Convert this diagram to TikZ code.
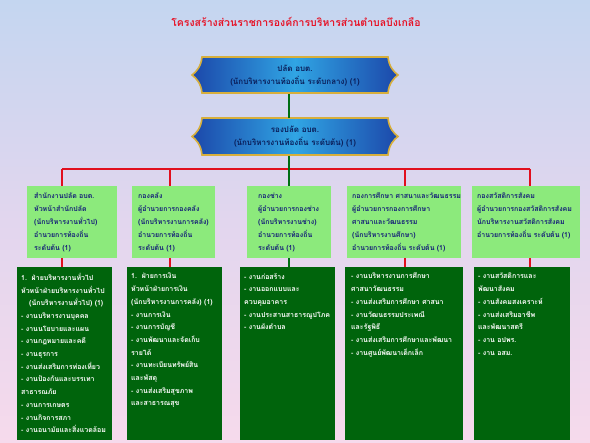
\documentclass[tikz,border=0pt]{standalone}
\usepackage{fontspec}
\newfontfamily\thaifont[Script=Thai]{Loma}
\usetikzlibrary{calc}
\definecolor{bgtop}{RGB}{196,214,240}
\definecolor{bgmid}{RGB}{226,214,238}
\definecolor{bgbot}{RGB}{246,218,236}
\definecolor{titlered}{RGB}{230,20,40}
\definecolor{lgreen}{RGB}{140,234,124}
\definecolor{dgreen}{RGB}{0,100,12}
\definecolor{navy}{RGB}{20,30,120}
\definecolor{conred}{RGB}{225,15,30}
\definecolor{congreen}{RGB}{0,110,20}
\definecolor{gold}{RGB}{215,175,60}
\definecolor{bluedark}{RGB}{28,72,170}
\definecolor{bluelight}{RGB}{48,165,228}
\definecolor{bannertext}{RGB}{10,30,90}
\newcommand\drawbanner[4]{%
  \pgfmathsetmacro\bym{(#3+#4)/2}%
  \shadedraw[left color=bluedark, right color=bluedark, middle color=bluelight, draw=gold, line width=1.6pt]
  (#1+10,#3) -- (#2-10,#3) .. controls (#2-9,\bym-8) and (#2-4,\bym-3) .. (#2,\bym)
  .. controls (#2-4,\bym+3) and (#2-9,\bym+8) .. (#2-10,#4) -- (#1+10,#4)
  .. controls (#1+9,\bym+8) and (#1+4,\bym+3) .. (#1,\bym)
  .. controls (#1+4,\bym-3) and (#1+9,\bym-8) .. (#1+10,#3) -- cycle;
}
\begin{document}
\begin{tikzpicture}[x=1pt,y=-1pt,
  lbox/.style={fill=lgreen, anchor=north west, inner sep=0pt},
  dbox/.style={fill=dgreen, anchor=north west, inner sep=0pt},
  ltext/.style={anchor=north west, inner sep=0pt, align=left, text=navy, font=\thaifont\bfseries\fontsize{7}{13}\selectfont},
  dtext/.style={anchor=north west, inner sep=0pt, align=left, text=white, font=\thaifont\bfseries\fontsize{7}{12.7}\selectfont},
  btext/.style={inner sep=0pt, align=center, text=bannertext, font=\thaifont\bfseries\fontsize{8}{13}\selectfont, minimum width=206pt},
  redcon/.style={draw=conred, line width=1.8pt},
  greencon/.style={draw=congreen, line width=1.8pt},
]
\useasboundingbox (0,0) rectangle (590,443);
\shade[top color=bgtop, bottom color=bgbot, middle color=bgmid] (0,0) rectangle (590,443);

\node[font=\thaifont\bfseries\fontsize{10.5}{13}\selectfont, text=titlered] (title) at (296,22) {โครงสร้างส่วนราชการองค์การบริหารส่วนตำบลบึงเกลือ};

% banners
\drawbanner{192}{398}{57}{93}
\node[btext, minimum height=36pt] (ban1) at (295,76) {ปลัด อบต.\\(นักบริหารงานท้องถิ่น ระดับกลาง) (1)};
\drawbanner{192}{398}{118}{155}
\node[btext, minimum height=37pt] (ban2) at (295,137) {รองปลัด อบต.\\(นักบริหารงานท้องถิ่น ระดับต้น) (1)};

% light boxes
\node[lbox, minimum width=90pt, minimum height=72pt] (l1) at (27,186) {};
\node[lbox, minimum width=83pt, minimum height=72pt] (l2) at (132,186) {};
\node[lbox, minimum width=84pt, minimum height=72pt] (l3) at (247,186) {};
\node[lbox, minimum width=114pt, minimum height=72pt] (l4) at (347,186) {};
\node[lbox, minimum width=108pt, minimum height=72pt] (l5) at (472,186) {};

% dark boxes
\node[dbox, minimum width=95pt, minimum height=173pt] (d1) at (17,267) {};
\node[dbox, minimum width=95pt, minimum height=173pt] (d2) at (127,267) {};
\node[dbox, minimum width=95pt, minimum height=173pt] (d3) at (240,267) {};
\node[dbox, minimum width=118pt, minimum height=173pt] (d4) at (345,267) {};
\node[dbox, minimum width=96pt, minimum height=173pt] (d5) at (474,267) {};

% connector coordinates
\coordinate (c1) at (62,169);
\coordinate (c2) at (170,169);
\coordinate (c3) at (289,169);
\coordinate (c4) at (405,169);
\coordinate (c5) at (530,169);

\draw[redcon] (c1) -- (c5);
\draw[redcon] (c1) -- (c1 |- l1.north);
\draw[redcon] (c2) -- (c2 |- l2.north);
\draw[redcon] (c4) -- (c4 |- l4.north);
\draw[redcon] (c5) -- (c5 |- l5.north);
\draw[redcon] (c1 |- l1.south) -- (c1 |- d1.north);
\draw[redcon] (c2 |- l2.south) -- (c2 |- d2.north);
\draw[redcon] (c4 |- l4.south) -- (c4 |- d4.north);
\draw[redcon] (c5 |- l5.south) -- (c5 |- d5.north);
\draw[greencon] (c3 |- ban1.south) -- (c3 |- ban2.north);
\draw[greencon] (c3 |- ban2.south) -- (c3 |- l3.north);
\draw[greencon] (c3 |- l3.south) -- (c3 |- d3.north);

% light box texts
\node[ltext] (lt1) at ($(l1.north west)+(7,7)$) {สำนักงานปลัด อบต.\\หัวหน้าสำนักปลัด\\(นักบริหารงานทั่วไป)\\อำนวยการท้องถิ่น\\ระดับต้น (1)};
\node[ltext] (lt2) at ($(l2.north west)+(6,7)$) {กองคลัง\\ผู้อำนวยการกองคลัง\\(นักบริหารงานการคลัง)\\อำนวยการท้องถิ่น\\ระดับต้น (1)};
\node[ltext] (lt3) at ($(l3.north west)+(11,7)$) {กองช่าง\\ผู้อำนวยการกองช่าง\\(นักบริหารงานช่าง)\\อำนวยการท้องถิ่น\\ระดับต้น (1)};
\node[ltext] (lt4) at ($(l4.north west)+(5,7)$) {กองการศึกษา ศาสนาและวัฒนธรรม\\ผู้อำนวยการกองการศึกษา\\ศาสนาและวัฒนธรรม\\(นักบริหารงานศึกษา)\\อำนวยการท้องถิ่น ระดับต้น (1)};
\node[ltext] (lt5) at ($(l5.north west)+(5,7)$) {กองสวัสดิการสังคม\\ผู้อำนวยการกองสวัสดิการสังคม\\นักบริหารงานสวัสดิการสังคม\\อำนวยการท้องถิ่น ระดับต้น (1)};

% dark box texts
\node[dtext] (dt1) at ($(d1.north west)+(4,6)$) {1.\ \ ฝ่ายบริหารงานทั่วไป\\หัวหน้าฝ่ายบริหารงานทั่วไป\\\hspace*{8pt}(นักบริหารงานทั่วไป) (1)\\- งานบริหารงานบุคคล\\- งานนโยบายและแผน\\- งานกฎหมายและคดี\\- งานธุรการ\\- งานส่งเสริมการท่องเที่ยว\\- งานป้องกันและบรรเทา\\สาธารณภัย\\- งานการเกษตร\\- งานกิจการสภา\\- งานอนามัยและสิ่งแวดล้อม};
\node[dtext] (dt2) at ($(d2.north west)+(4,6)$) {1.\ \ ฝ่ายการเงิน\\หัวหน้าฝ่ายการเงิน\\(นักบริหารงานการคลัง) (1)\\- งานการเงิน\\- งานการบัญชี\\- งานพัฒนาและจัดเก็บ\\รายได้\\- งานทะเบียนทรัพย์สิน\\และพัสดุ\\- งานส่งเสริมสุขภาพ\\และสาธารณสุข};
\node[dtext] (dt3) at ($(d3.north west)+(4,6)$) {- งานก่อสร้าง\\- งานออกแบบและ\\ควบคุมอาคาร\\- งานประสานสาธารณูปโภค\\- งานผังตำบล};
\node[dtext] (dt4) at ($(d4.north west)+(6,6)$) {- งานบริหารงานการศึกษา\\ศาสนาวัฒนธรรม\\- งานส่งเสริมการศึกษา ศาสนา\\- งานวัฒนธรรมประเพณี\\และรัฐพิธี\\- งานส่งเสริมการศึกษาและพัฒนา\\- งานศูนย์พัฒนาเด็กเล็ก};
\node[dtext] (dt5) at ($(d5.north west)+(4,6)$) {- งานสวัสดิการและ\\พัฒนาสังคม\\- งานสังคมสงเคราะห์\\- งานส่งเสริมอาชีพ\\และพัฒนาสตรี\\- งาน อปพร.\\- งาน อสม.};
\end{tikzpicture}
\end{document}
